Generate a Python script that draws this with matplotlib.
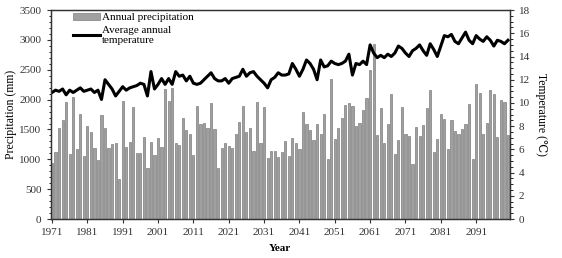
import matplotlib
matplotlib.use("Agg")
import matplotlib.pyplot as plt
from matplotlib.ticker import MultipleLocator

plt.rcParams['font.family'] = ['Liberation Serif', 'DejaVu Serif']

# Années 1971-2100
annees = list(range(1971, 2101))

# Précipitations annuelles (mm)
precipitation = [
    933, 1128, 1528, 1656, 1961, 1083, 2045, 1167, 1761, 1056,
    1556, 1461, 1194, 983, 1739, 1517, 1194, 1250, 1278, 667,
    1972, 1206, 1294, 1872, 1100, 1100, 1372, 861, 1289, 1078,
    1350, 1211, 2178, 1972, 2194, 1278, 1233, 1689, 1483, 1417,
    1078, 1889, 1600, 1611, 1528, 1944, 1500, 850, 1194, 1278,
    1222, 1183, 1417, 1628, 1900, 1461, 1522, 1133, 1961, 1278,
    1878, 1028, 1139, 1139, 1039, 1128, 1300, 1056, 1361, 1272,
    1178, 1800, 1589, 1483, 1328, 1600, 1428, 1767, 1011, 2350,
    1344, 1517, 1689, 1917, 1944, 1889, 1556, 1611, 1833, 2028,
    2489, 2928, 1411, 1856, 1267, 1589, 2094, 1094, 1328, 1878,
    1428, 1389, 928, 1539, 1385, 1583, 1856, 2156, 1122, 1344,
    1756, 1683, 1178, 1656, 1472, 1417, 1511, 1600, 1933, 1011,
    2256, 2111, 1417, 1611, 2161, 2094, 1378, 1989, 1956, 1411,
]

# Température moyenne annuelle (°C)
temperature = [
    10.9, 11.1, 11.0, 11.2, 10.7, 11.1, 10.9, 11.1, 11.3, 11.0,
    11.1, 11.2, 10.9, 11.1, 10.3, 12.0, 11.6, 11.2, 10.6, 11.0,
    11.4, 11.1, 11.3, 11.4, 11.5, 11.7, 11.6, 10.6, 12.7, 11.2,
    11.6, 12.1, 11.6, 12.1, 11.6, 12.7, 12.3, 12.4, 11.9, 12.3,
    11.7, 11.6, 11.7, 12.0, 12.3, 12.6, 12.1, 11.9, 11.9, 12.1,
    11.7, 12.1, 12.2, 12.3, 12.9, 12.3, 12.6, 12.7, 12.3, 12.0,
    11.7, 11.3, 12.0, 12.2, 12.6, 12.4, 12.4, 12.5, 13.4, 12.9,
    12.3, 12.9, 13.7, 13.4, 12.9, 12.0, 13.7, 13.1, 13.2, 13.6,
    13.4, 13.3, 13.4, 13.6, 14.2, 12.4, 13.4, 13.3, 13.6, 13.3,
    15.0, 14.3, 13.9, 14.1, 13.9, 14.2, 14.0, 14.3, 14.9, 14.7,
    14.3, 14.0, 14.5, 14.7, 15.0, 14.5, 14.1, 15.1, 14.6, 14.0,
    14.9, 15.8, 15.7, 15.9, 15.3, 15.1, 15.6, 16.1, 15.4, 15.1,
    15.8, 15.5, 15.3, 15.7, 15.4, 14.9, 15.4, 15.3, 15.1, 15.4,
]

ticks_annees = list(range(1971, 2092, 10))

fig = plt.figure(figsize=(5.62, 2.58), dpi=100)
ax = fig.add_axes([0.09, 0.151, 0.817, 0.81])

barres = ax.bar(annees, precipitation, width=0.62, color='#a0a0a0',
                edgecolor='#6a6a6a', linewidth=0.4, label='Annual precipitation')
ax.set_xlim(1970.6, 2100.5)
ax.set_ylim(0, 3500)
ax.set_xticks(ticks_annees)
ax.yaxis.set_major_locator(MultipleLocator(500))
ax.yaxis.set_minor_locator(MultipleLocator(100))
ax.set_ylabel("Precipitation (mm)", fontsize=8.5, labelpad=2)
ax.set_xlabel("Year", fontsize=8, fontweight='bold', labelpad=5)
ax.tick_params(axis='both', labelsize=8, colors='#333333', length=3, width=0.8)
ax.tick_params(axis='y', which='minor', length=1.8, width=0.6)

ax2 = ax.twinx()
ligne, = ax2.plot(annees, temperature, color='black', linewidth=2.2,
                  label='Average annual\ntemperature')
ax2.set_ylim(0, 18)
ax2.yaxis.set_major_locator(MultipleLocator(2))
ax2.yaxis.set_minor_locator(MultipleLocator(0.5))
ax2.set_ylabel("Temperature (℃)", fontsize=8.5,
               rotation=-90, labelpad=12)
ax2.tick_params(axis='y', labelsize=8, colors='#333333', length=3, width=0.8)
ax2.tick_params(axis='y', which='minor', length=1.8, width=0.6)

for a in (ax, ax2):
    for s in a.spines.values():
        s.set_linewidth(0.9)
        s.set_color('#333333')

ax2.legend([barres, ligne], ['Annual precipitation', 'Average annual\ntemperature'],
           loc='upper left', bbox_to_anchor=(0.035, 1.02), frameon=False,
           fontsize=8, handlelength=2.4, handletextpad=0.2, labelspacing=0.3,
           borderaxespad=0.2)

fig.savefig('out.png', dpi=100)
